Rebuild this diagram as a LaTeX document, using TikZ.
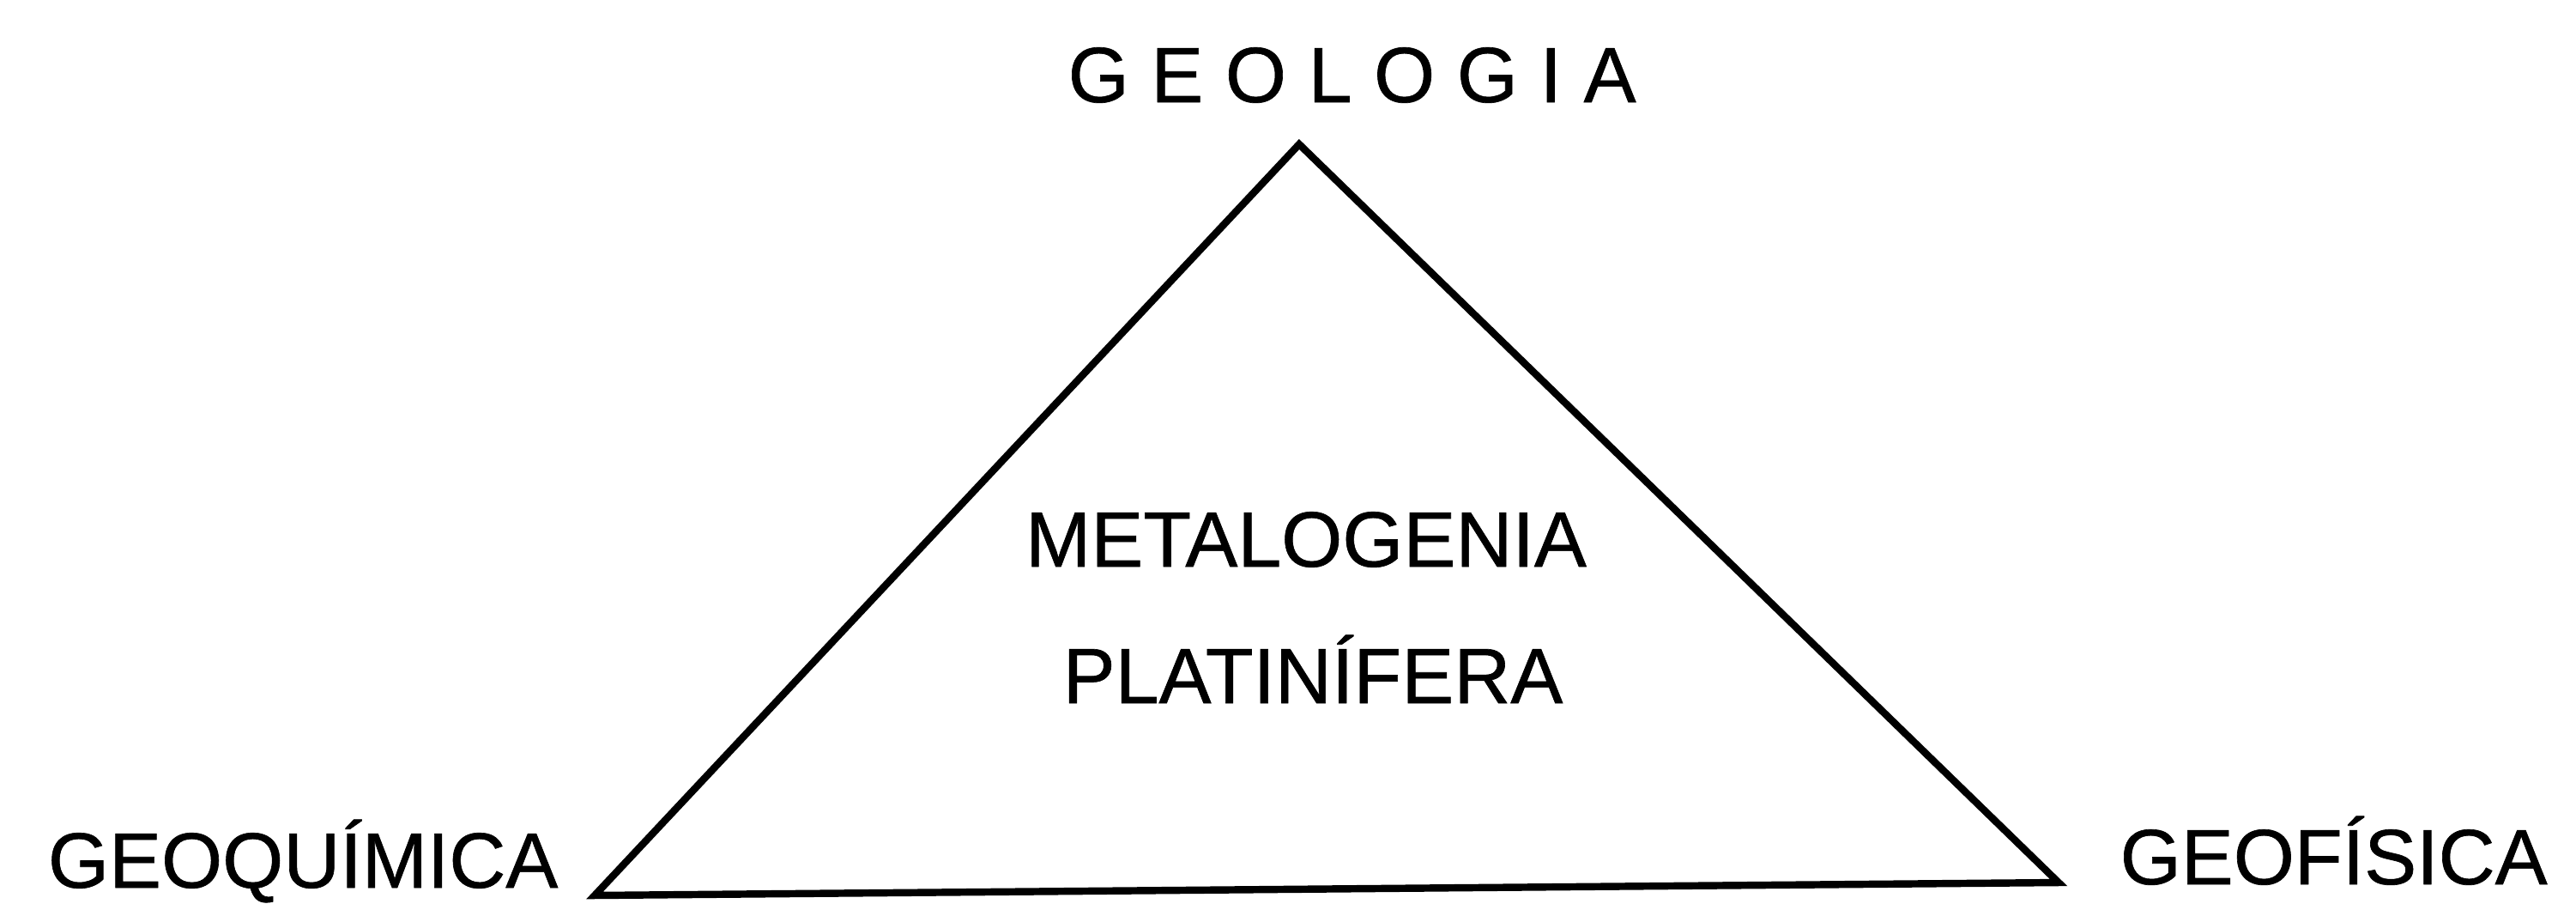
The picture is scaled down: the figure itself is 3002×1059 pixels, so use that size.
\documentclass[tikz,border=0pt]{standalone}
\usepackage{fontspec}
\setmainfont{Liberation Sans}
\usetikzlibrary{positioning}
\tikzset{lbl/.style={font=\fontsize{26}{31}\selectfont\addfontfeature{FakeBold=0.7}, inner sep=0pt}}

\begin{document}
\begin{tikzpicture}[x=0.01cm,y=-0.01cm]
\useasboundingbox (0,0) rectangle (3002,1059);
% corners of the triangle
\coordinate (apex) at (1514,168);
\coordinate (bl) at (693,1043);
\coordinate (br) at (2399,1028);
\draw[line width=2.4pt, line join=miter] (apex) -- (br) -- (bl) -- cycle;
% labels
\node[lbl, anchor=base west] (geologia) at (1244,119) {\addfontfeature{LetterSpace=28}GEOLOGIA};
\node[lbl, anchor=base east] (geoquimica) at (651,1034) {GEOQUÍMICA};
\node[lbl, anchor=base west] (geofisica) at (2470,1030) {GEOFÍSICA};
\node[lbl, anchor=base] (metalogenia) at (1522,660) {METALOGENIA};
\node[lbl, anchor=base] (platinifera) at (1530,819) {PLATINÍFERA};
\end{tikzpicture}
\end{document}
